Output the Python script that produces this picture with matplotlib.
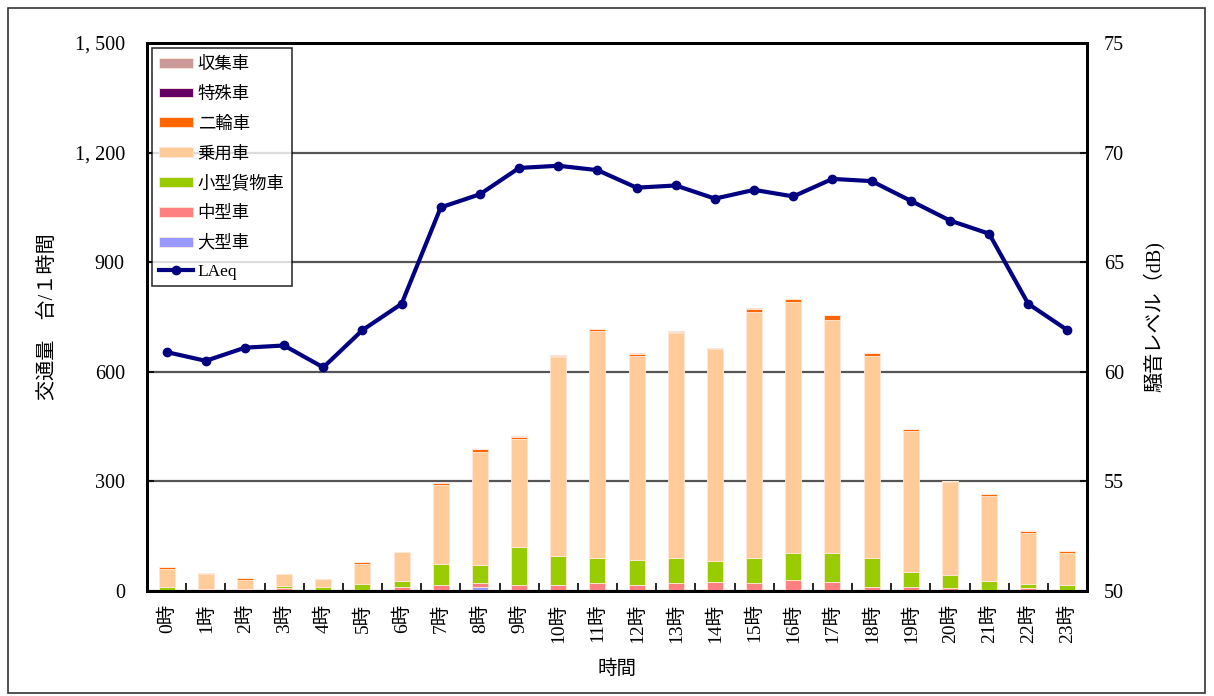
import matplotlib.pyplot as plt
from matplotlib.patches import Rectangle

plt.rcParams['font.family'] = ['Liberation Serif', 'Noto Sans CJK JP']

hours = [f'{h}時' for h in range(24)]

oogata = [0, 0, 0, 0, 0, 0, 0, 0, 10, 0, 0, 0, 0, 0, 0, 0, 0, 0, 0, 0, 0, 0, 0, 0]
chugata = [0, 0, 0, 7, 0, 0, 10, 15, 11, 15, 17, 22, 15, 22, 25, 22, 29, 25, 11, 11, 7, 0, 7, 0]
kogata_kamotsu = [10, 6, 6, 7, 10, 18, 18, 59, 49, 105, 78, 67, 70, 69, 56, 69, 76, 79, 80, 42, 38, 27, 13, 15]
joyo = [51, 40, 24, 33, 23, 57, 79, 217, 311, 297, 545, 624, 559, 614, 581, 673, 685, 639, 552, 385, 252, 234, 139, 90]
nirin = [4, 4, 6, 0, 0, 4, 0, 5, 8, 4, 4, 3, 4, 5, 4, 7, 10, 12, 9, 5, 3, 5, 5, 4]
tokushu = [0] * 24
shushu = [0, 0, 0, 0, 0, 0, 0, 0, 0, 4, 3, 0, 4, 3, 0, 4, 0, 0, 0, 0, 0, 0, 0, 0]

laeq = [60.9, 60.5, 61.1, 61.2, 60.2, 61.9, 63.1, 67.5, 68.1, 69.3, 69.4, 69.2,
        68.4, 68.5, 67.9, 68.3, 68.0, 68.8, 68.7, 67.8, 66.9, 66.3, 63.1, 61.9]

series = [
    ('大型車', oogata, '#9999FF'),
    ('中型車', chugata, '#FF8080'),
    ('小型貨物車', kogata_kamotsu, '#99CC00'),
    ('乗用車', joyo, '#FFCC99'),
    ('二輪車', nirin, '#FF6600'),
    ('特殊車', tokushu, '#660066'),
    ('収集車', shushu, '#CC9999'),
]

fig = plt.figure(figsize=(12.14, 6.96), dpi=100)
ax = fig.add_axes([0.1211, 0.1509, 0.7743, 0.7873])
ax2 = ax.twinx()

x = list(range(24))
bottom = [0] * 24
bars = {}
for name, vals, color in series:
    bars[name] = ax.bar(x, vals, width=0.41, bottom=bottom, color=color,
                        edgecolor='#FFE8D8', linewidth=0.6, zorder=2)
    bottom = [b + v for b, v in zip(bottom, vals)]

line, = ax2.plot(x, laeq, color='#000080', linewidth=3, marker='o',
                 markersize=6, zorder=3)

ax.set_xlim(-0.5, 23.5)
ax.set_ylim(0, 1500)
ax.set_yticks([0, 300, 600, 900, 1200, 1500])
ax.set_yticklabels(['0', '300', '600', '900', '1, 200', '1, 500'], fontsize=14.5)
ax2.set_ylim(50, 75)
ax2.set_yticks([50, 55, 60, 65, 70, 75])
ax2.set_yticklabels(['50', '55', '60', '65', '70', '75'], fontsize=14.5)

ax.set_xticks(x)
ax.set_xticklabels(hours, rotation=90, fontsize=14)
ax.set_xticks([i + 0.5 for i in range(23)], minor=True)
ax.tick_params(axis='x', which='major', length=0, pad=9)
ax.tick_params(axis='x', which='minor', direction='in', length=6, width=1.2)
ax.tick_params(axis='y', direction='in', length=5, width=1.2, pad=16)
ax2.tick_params(axis='y', direction='in', length=5, width=1.2, pad=12)

ax.grid(axis='y', color='#555555', linewidth=1.6, zorder=1)
ax.set_axisbelow(True)
for a in (ax, ax2):
    for s in a.spines.values():
        s.set_linewidth(2)
        s.set_color('black')

ax.set_xlabel('時間', fontsize=14, labelpad=12)
ax.set_ylabel('交通量　台/１時間', fontsize=14.5, labelpad=12)
ax2.set_ylabel('騒音レベル（dB)', fontsize=14.5, labelpad=14)

handles = [bars[n] for n, _, _ in reversed(series)] + [line]
labels = [n for n, _, _ in reversed(series)] + ['LAeq']
leg = ax2.legend(handles, labels, loc='upper left', bbox_to_anchor=(0.005, 0.991),
                 prop={'family': ['Noto Sans CJK JP'], 'size': 12.5},
                 frameon=True, fancybox=False, edgecolor='black',
                 handlelength=2.0, handleheight=0.5, handletextpad=0.25,
                 labelspacing=0.68, borderpad=0.4, borderaxespad=0)
leg.get_frame().set_linewidth(1.2)
leg.get_texts()[-1].set_family(['Liberation Serif'])

fig.patches.append(Rectangle((8 / 1214, 3 / 696), 1197 / 1214, 685 / 696,
                             transform=fig.transFigure, fill=False,
                             edgecolor='#333333', linewidth=1.2))

plt.savefig('out.png')
